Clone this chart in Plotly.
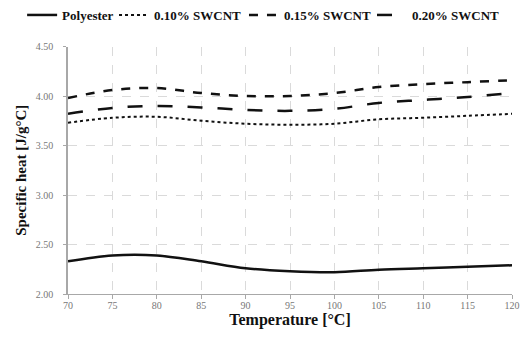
import plotly.graph_objects as go

temperature = [70, 75, 80, 85, 90, 95, 100, 105, 110, 115, 120]
polyester = [2.33, 2.39, 2.39, 2.33, 2.26, 2.23, 2.22, 2.245, 2.26, 2.275, 2.29]
swcnt_010 = [3.73, 3.78, 3.79, 3.75, 3.72, 3.71, 3.72, 3.765, 3.78, 3.80, 3.82]
swcnt_015 = [3.98, 4.06, 4.08, 4.03, 4.00, 4.00, 4.03, 4.09, 4.12, 4.14, 4.16]
swcnt_020 = [3.82, 3.88, 3.90, 3.885, 3.86, 3.85, 3.87, 3.93, 3.96, 3.99, 4.03]

x_ticks = [70, 75, 80, 85, 90, 95, 100, 105, 110, 115, 120]
x_tick_labels = ["70", "75", "80", "85", "90", "95", "100", "105", "110", "115", "120"]
y_ticks = [2.0, 2.5, 3.0, 3.5, 4.0, 4.5]
y_tick_labels = ["2.00", "2.50", "3.00", "3.50", "4.00", "4.50"]

series = [
    ("Polyester", polyester, "solid", 2.5),
    ("0.10% SWCNT", swcnt_010, "dot", 2),
    ("0.15% SWCNT", swcnt_015, "dash", 2.5),
    ("0.20% SWCNT", swcnt_020, "longdash", 2.5),
]
legend_ids = ["legend2", "legend3", "legend4", "legend5"]
legend_x = [0.027, 0.2027, 0.4512, 0.696]

W, H = 523, 334
L, R, T, B = 55, 11, 32, 48

fig = go.Figure()
for (name, vals, dash, w), lid in zip(series, legend_ids):
    fig.add_trace(go.Scatter(
        x=temperature, y=vals, name="<b>" + name + "</b>", mode="lines",
        legend=lid, showlegend=True,
        line=dict(color="#111111", dash=dash, width=w, shape="spline", smoothing=1.0),
    ))

font_fam = "Liberation Serif, DejaVu Serif, serif"
layout_legends = {}
for lid, lx in zip(legend_ids, legend_x):
    layout_legends[lid] = dict(
        orientation="h", xref="container", yref="container",
        x=lx, xanchor="left", y=1 - 7 / H, yanchor="middle",
        font=dict(size=13, family=font_fam, color="#111111"),
        bgcolor="rgba(0,0,0,0)", borderwidth=0,
    )

fig.update_layout(
    width=W, height=H, showlegend=True,
    margin=dict(l=L, r=R, t=T, b=B),
    paper_bgcolor="white", plot_bgcolor="white",
    font=dict(family=font_fam, color="#222222"),
    xaxis=dict(
        range=[70, 120], tickvals=x_ticks, ticktext=x_tick_labels,
        showgrid=True, gridcolor="#dadada", griddash="dash", gridwidth=1,
        showline=True, linecolor="#a8a8a8", linewidth=1,
        ticks="outside", ticklen=4, tickcolor="#a8a8a8",
        tickfont=dict(size=10, color="#777777"),
        ticklabelstandoff=-2,
        title=dict(text="<b>Temperature [°C]</b>", font=dict(size=16, color="#111111"), standoff=2),
        zeroline=False,
    ),
    yaxis=dict(
        range=[2.0, 4.5], tickvals=y_ticks, ticktext=y_tick_labels,
        showgrid=True, gridcolor="#dadada", griddash="dash", gridwidth=1,
        showline=True, linecolor="#a8a8a8", linewidth=1.5,
        ticks="outside", ticklen=3, tickcolor="#a8a8a8",
        tickfont=dict(size=10, color="#777777"),
        ticklabelstandoff=8,
        title=dict(text="<b>Specific heat [J/g°C]</b>", font=dict(size=15, color="#111111"), standoff=6),
        zeroline=False,
    ),
    **layout_legends,
)

fig.write_html("out.html")
